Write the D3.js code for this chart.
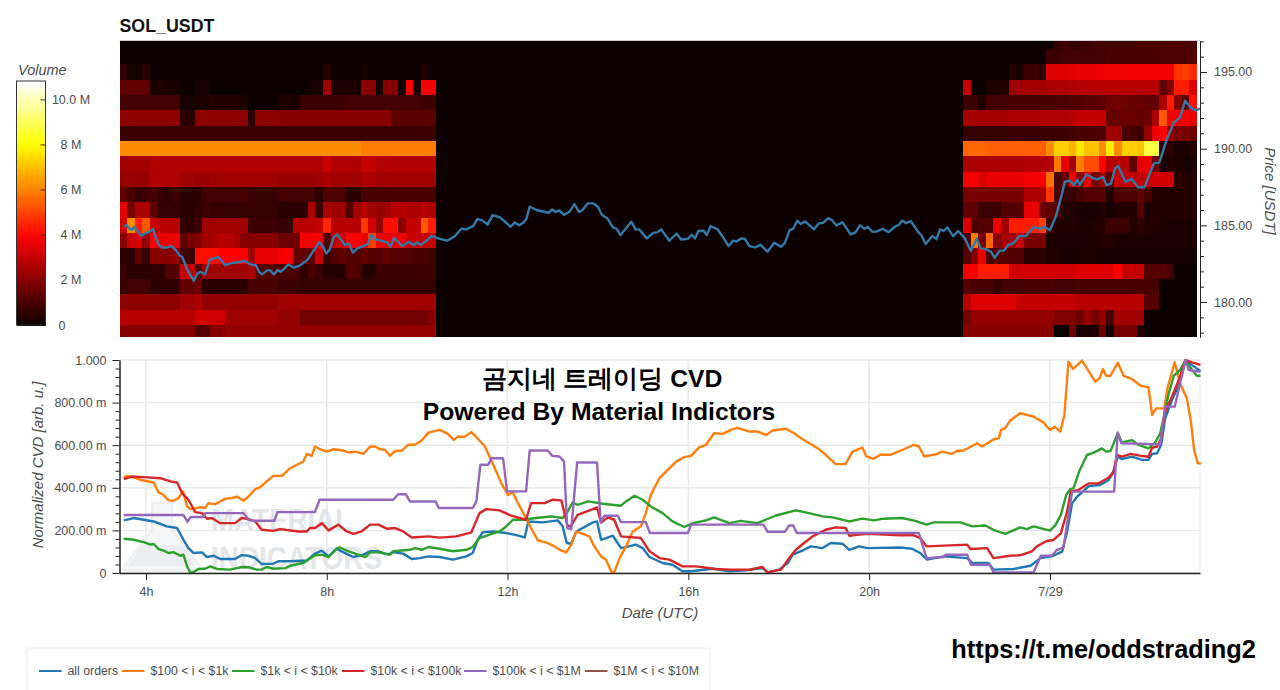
<!DOCTYPE html>
<html>
<head>
<meta charset="utf-8">
<script src="https://cdn.jsdelivr.net/npm/d3@7"></script>
<style>
html, body { margin: 0; padding: 0; background: #fff; overflow: hidden; }
svg { display: block; }
text { font-family: "Liberation Sans", Arial, sans-serif; }
</style>
</head>
<body>
<div id="chart"></div>
<script>
// volume per price level, in tenths of a million. first 42 cells = left block, last 31 = right block
const vol197 = [1,1,1,1,1,1,1,1,1,1, 1,1,1,1,1,1,1,1,1,1, 1,1,1,1,1,1,1,1,1,1, 1,1,1,1,1,1,1,1,1,1, 1,1,
  1,1,1,1,1,1,1,1,1,1, 1,1,6,8,7,7,8,9,9,9, 9,9,9,10,10,10,10,11,11,11, 10];
const vol196 = [1,1,1,1,1,1,1,1,1,1, 1,1,1,1,1,1,1,1,1,1, 1,1,1,1,1,1,1,1,1,1, 1,1,1,1,1,1,1,1,1,1, 1,1,
  1,1,1,1,1,1,1,1,1,1, 1,8,8,9,9,9,9,9,9,10, 10,10,10,10,10,10,11,11,11,11, 12];
const vol195 = [7,2,2,6,1,1,1,1,1,1, 1,1,1,1,1,1,1,1,1,1, 1,1,1,1,1,1,1,4,1,1, 1,1,2,1,1,1,1,1,1,1, 4,1,
  1,1,1,1,1,1,4,3,8,8, 5,34,34,34,35,36,36,36,37,37, 37,37,38,38,38,38,38,38,48,50, 46];
const vol194 = [14,14,14,14,3,3,3,2,1,1, 2,2,1,1,1,1,1,1,1,1, 1,1,1,1,1,2,2,24,3,3, 3,2,20,20,2,20,20,2,40,3, 38,38,
  30,1,1,3,3,4,24,24,25,25, 25,26,26,26,27,28,28,28,28,28, 28,28,28,28,28,28,14,20,44,44, 34];
const vol193 = [9,9,9,9,9,9,9,9,2,2, 3,3,4,4,4,4,3,1,1,1, 1,3,3,3,8,8,8,8,8,8, 9,9,9,9,9,9,9,9,9,9, 8,8,
  8,8,4,9,9,9,10,10,10,10, 10,10,11,11,12,12,13,13,14,16, 17,16,15,15,14,14,26,44,20,14, 42];
const vol192 = [21,21,21,21,21,21,21,21,5,5, 21,21,21,21,21,21,21,5,21,21, 21,20,20,20,20,20,20,20,20,20, 20,20,20,20,20,20,13,13,13,13, 13,13,
  25,25,25,25,25,25,26,26,26,26, 27,27,27,27,28,30,30,30,30,15, 15,15,15,14,16,26,54,38,38,38, 36];
const vol191 = [8,8,8,8,8,8,8,8,8,8, 8,8,8,8,8,8,8,8,8,8, 8,8,8,8,8,8,8,8,8,8, 8,8,8,8,8,8,8,8,8,8, 8,8,
  7,7,7,7,7,7,8,8,8,8, 8,8,8,8,9,10,10,11,11,24, 24,10,10,8,22,36,40,22,18,18, 16];
const vol190 = [62,62,62,62,62,62,62,62,62,62, 62,62,62,62,62,62,62,62,62,62, 62,62,62,62,62,62,62,62,62,62, 62,62,60,60,60,60,60,60,60,60, 60,60,
  56,56,56,55,55,55,55,55,55,55, 55,62,73,73,68,77,71,71,62,78, 62,73,73,71,88,88,6,5,3,3, 4];
const vol189 = [25,25,25,25,27,27,27,27,27,27, 27,27,27,27,27,27,27,27,27,27, 27,27,27,27,27,27,27,31,27,27, 27,27,30,30,27,28,27,27,27,27, 27,27,
  26,26,26,26,26,26,26,26,27,27, 27,27,59,36,24,60,52,52,40,28, 28,28,14,36,37,16,4,4,3,2, 3];
const vol188 = [23,23,23,23,27,27,27,27,24,24, 23,23,24,24,24,24,24,24,24,24, 24,23,23,23,23,23,24,26,24,24, 24,24,26,26,24,24,24,24,24,24, 24,24,
  38,38,34,36,36,36,36,36,38,38, 38,58,10,14,36,20,36,18,24,14, 30,30,30,30,30,32,32,32,5,4, 4];
const vol187 = [14,10,7,8,10,7,6,8,5,5, 5,9,9,9,9,9,9,7,7,7, 7,9,9,9,9,9,5,11,11,11, 5,5,10,10,10,10,10,10,10,10, 10,10,
  18,18,18,18,18,18,18,18,26,26, 26,48,10,7,7,10,12,12,12,4, 11,11,11,14,10,4,4,4,4,4, 4];
const vol186 = [35,18,26,26,14,7,7,7,5,5, 7,8,7,7,7,7,7,7,7,7, 7,5,5,5,5,26,8,26,24,24, 12,24,28,24,22,24,28,28,26,26, 28,26,
  14,14,8,8,8,12,12,12,36,36, 16,14,12,4,4,3,2,3,4,2, 4,4,4,12,3,4,4,4,4,4, 4];
const vol185 = [32,62,44,54,30,28,28,28,6,6, 8,24,24,24,24,24,24,8,8,8, 8,7,7,28,28,28,30,46,28,28, 28,28,48,32,22,42,42,20,30,30, 54,44,
  34,10,12,12,36,24,44,44,44,44, 50,8,4,4,4,3,3,4,4,8, 8,8,4,6,4,4,3,3,3,3, 3];
const vol184 = [20,30,34,22,38,36,36,36,14,18, 20,24,26,28,28,26,20,20,20,20, 20,16,16,16,38,38,38,12,30,30, 40,40,36,50,36,36,36,38,30,30, 30,30,
  10,60,18,56,20,26,24,30,18,18, 18,3,3,3,3,3,3,3,4,4, 3,3,3,3,3,3,3,3,3,3, 3];
const vol183 = [6,5,14,6,20,20,20,22,10,8, 42,42,42,40,40,40,40,24,36,36, 36,38,38,14,14,14,30,8,12,14, 12,12,14,12,12,14,12,12,12,10, 10,8,
  12,20,36,10,12,12,12,12,5,5, 5,4,4,2,2,3,3,3,2,2, 2,2,2,2,2,2,2,2,2,2, 2];
const vol182 = [8,5,5,5,6,6,12,12,30,30, 12,24,24,24,24,24,24,26,12,12, 12,10,10,10,6,10,8,4,4,4, 12,12,4,4,8,8,8,8,8,8, 8,8,
  38,38,44,44,44,44,32,32,32,32, 32,32,32,32,32,34,34,34,34,34, 40,30,30,30,12,12,12,10,1,1, 1];
const vol181 = [8,9,9,9,6,6,6,6,14,14, 16,5,5,5,5,5,5,10,10,10, 10,8,8,8,7,7,7,7,7,7, 7,7,7,7,7,7,7,7,7,7, 7,7,
  12,10,10,10,7,9,9,9,10,10, 10,10,9,9,9,10,10,10,10,10, 10,10,10,10,10,10,1,1,1,1, 1];
const vol180 = [21,21,21,21,21,21,21,21,24,24, 26,22,22,22,22,22,22,22,22,22, 22,24,24,24,24,24,24,24,24,24, 24,24,24,24,24,24,24,24,24,24, 24,24,
  28,34,34,34,34,34,34,30,30,30, 30,30,30,30,30,28,28,28,28,28, 28,28,28,28,12,12,1,1,1,1, 1];
const vol179 = [28,28,28,28,28,28,28,28,28,28, 32,32,32,32,24,24,24,24,24,24, 24,22,22,22,17,17,17,17,17,17, 17,17,17,17,17,17,17,17,17,17, 17,20,
  18,22,22,22,22,22,22,22,22,22, 22,22,19,19,19,16,22,18,22,10, 24,24,24,24,1,1,1,1,1,1, 1];
const vol178 = [20,20,20,20,20,20,20,20,20,20, 12,12,20,20,22,22,22,22,22,22, 22,22,22,22,22,22,22,22,22,22, 22,22,22,22,22,22,22,22,22,22, 22,22,
  20,20,20,20,20,20,20,20,20,20, 20,20,1,1,16,2,2,3,16,2, 18,18,18,4,1,1,1,1,1,1, 1];

const priceLevels = [197,196,195,194,193,192,191,190,189,188,187,186,185,184,183,182,181,180,179,178];
const volRows = [vol197,vol196,vol195,vol194,vol193,vol192,vol191,vol190,vol189,vol188,vol187,vol186,vol185,vol184,vol183,vol182,vol181,vol180,vol179,vol178];
const LEFT_COLS = 42;
const LEFT_START = 3.5;    // hour of first cell centre
const RIGHT_START = 22.1667;

// [hour since 7/28 00:00 UTC, price]
const priceLine = [[3.51,184.95],[3.57,185.02],[3.62,184.84],[3.68,184.69],[3.74,184.91],[3.81,184.63],[3.90,184.32],[3.98,184.47],[4.05,184.54],[4.10,184.63],[4.16,184.76],[4.21,184.26],[4.29,183.71],[4.36,183.56],[4.47,183.56],[4.57,183.65],[4.66,183.39],[4.75,183.02],[4.80,182.95],[4.92,182.08],[5.06,181.37],[5.14,181.87],[5.21,181.97],[5.31,181.8],[5.41,182.74],[5.50,182.84],[5.60,182.95],[5.75,182.41],[5.87,182.52],[5.98,182.58],[6.10,182.63],[6.19,182.67],[6.32,182.45],[6.43,182.41],[6.50,181.97],[6.57,181.8],[6.69,182.08],[6.74,182.08],[6.83,181.8],[6.91,182.08],[6.98,181.97],[7.05,182.15],[7.15,182.45],[7.28,182.24],[7.42,182.41],[7.57,182.74],[7.72,183.39],[7.83,183.89],[7.90,183.71],[7.99,183.17],[8.06,183.39],[8.16,184.26],[8.23,184.41],[8.31,184.1],[8.40,183.71],[8.49,183.82],[8.58,183.23],[8.68,183.5],[8.90,183.76],[8.99,184.37],[9.07,184.1],[9.23,183.97],[9.34,183.89],[9.41,183.6],[9.49,184.19],[9.58,183.93],[9.67,183.65],[9.82,183.93],[9.93,183.71],[10.0,183.89],[10.08,183.71],[10.22,184.04],[10.32,184.32],[10.47,184.15],
  [10.66,184.0],[10.82,184.26],[10.98,184.78],[11.08,184.74],[11.24,184.95],[11.33,185.41],[11.43,185.34],[11.56,185.06],[11.67,185.67],[11.83,185.52],[12.07,184.91],[12.16,185.19],[12.26,185.0],[12.35,185.17],[12.42,185.45],[12.49,186.21],[12.64,186.0],[12.91,185.82],[12.99,186.04],[13.06,185.87],[13.14,185.98],[13.25,185.69],[13.37,185.89],[13.48,186.39],[13.58,185.87],[13.66,186.0],[13.77,186.43],[13.90,186.43],[14.0,186.21],[14.09,185.67],[14.21,185.45],[14.33,184.87],[14.41,184.78],[14.50,184.37],[14.74,185.24],[14.83,184.74],[14.91,184.74],[15.08,184.15],[15.23,184.52],[15.31,184.54],[15.40,184.74],[15.58,184.0],[15.74,184.47],[15.84,184.08],[15.99,184.13],[16.07,184.39],[16.15,184.15],[16.22,184.63],[16.34,184.65],[16.41,184.37],[16.49,184.95],[16.64,184.76],[16.76,184.26],[16.89,183.65],[16.99,184.0],[17.06,183.95],[17.18,184.15],[17.25,184.13],[17.35,183.65],[17.48,183.56],[17.6,183.73],[17.75,183.28],[17.9,183.87],[18.05,183.61],[18.13,183.82],[18.24,184.69],[18.32,184.78],[18.41,185.3],[18.49,185.08],[18.58,185.26],[18.78,184.74],[18.89,185.13],[18.98,185.17],[19.1,185.47],[19.18,185.34],[19.27,185.0],[19.41,185.19],[19.59,184.41],[19.69,184.52],[19.8,185.0],[19.9,184.78],[19.97,184.91],[20.07,184.58],[20.18,184.61],[20.3,184.78],[20.43,184.56],[20.57,184.91],[20.66,185.04],[20.73,185.32],[20.81,185.15],[20.92,185.28],[21.1,184.52],[21.16,184.34],[21.25,183.78],[21.4,184.3],[21.49,184.1],[21.57,184.74],[21.65,184.63],[21.73,184.87],
  [21.79,184.59],[21.86,184.3],[21.97,184.63],[22.12,184.15],[22.25,183.33],[22.38,184.15],[22.47,183.5],[22.6,183.44],[22.69,183.28],[22.78,182.89],[22.89,183.35],[22.98,183.35],[23.08,183.72],[23.19,183.83],[23.32,184.3],[23.47,184.3],[23.63,184.87],[23.78,184.8],[23.89,184.87],[24.0,184.7],[24.13,185.57],[24.26,186.98],[24.33,187.85],[24.44,187.91],[24.53,187.63],[24.61,187.96],[24.66,187.63],[24.81,188.33],[24.96,188.07],[25.05,188.0],[25.17,188.17],[25.25,187.63],[25.35,187.7],[25.44,188.72],[25.51,188.87],[25.67,187.85],[25.81,188.02],[25.95,187.48],[26.09,187.48],[26.21,188.39],[26.3,189.04],[26.42,189.09],[26.58,190.57],[26.74,191.7],[26.88,192.04],[26.99,193.13],[27.11,192.7],[27.23,192.48],[27.32,192.63]];

// [hour, normalized cvd]
const cvdAll = [[3.51,.247],[3.73,.258],[3.95,.25],[4.17,.242],[4.46,.219],[4.69,.211],[4.83,.156],[4.94,.117],[5.05,.094],[5.24,.097],[5.35,.075],[5.5,.081],[5.64,.066],[5.97,.066],[6.12,.084],[6.27,.081],[6.42,.07],[6.56,.042],[6.82,.044],[6.93,.055],[7.19,.055],[7.56,.059],[7.74,.091],[7.89,.105],[8.04,.078],[8.22,.114],[8.37,.097],[8.59,.075],[8.81,.086],[8.96,.102],[9.14,.102],[9.36,.086],[9.47,.098],[9.69,.091],[9.88,.066],[10.06,.07],[10.25,.078],
  [10.5,.075],[10.79,.0625],[11.09,.078],[11.23,.094],[11.34,.156],[11.45,.191],[11.68,.195],[11.97,.1875],[12.15,.18],[12.38,.167],[12.46,.242],[12.78,.2375],[13.11,.247],[13.22,.219],[13.31,.141],[13.41,.1375],[13.52,.195],[13.89,.2375],[13.98,.242],[14.07,.156],[14.33,.175],[14.51,.117],[14.84,.133],[14.99,.117],[15.14,.075],[15.43,.047],[15.65,.039],[15.87,.008],[16.06,.008],[16.54,.02],[16.91,.008],[17.27,.0125],[17.64,.023],[17.75,.003],[18.01,.016],[18.2,.047],[18.31,.086],[18.56,.109],[18.71,.125],[18.97,.117],[19.15,.141],[19.41,.1375],[19.56,.109],[19.78,.125],
  [19.96,.117],[20.69,.12],[20.95,.114],[21.13,.094],[21.28,.0625],[21.65,.078],[22.17,.07],[22.28,.047],[22.64,.047],[22.75,.016],[23.2,.019],[23.57,.034],[23.79,.07],[24.04,.078],[24.27,.1],[24.38,.194],[24.49,.327],[24.6,.358],[24.86,.408],[25.11,.413],[25.3,.437],[25.39,.468],[25.5,.546],[25.59,.535],[25.81,.546],[26.04,.531],[26.18,.531],[26.26,.559],[26.37,.562],[26.46,.601],[26.55,.726],[26.7,.812],[26.85,.883],[27.0,1.0],[27.14,.976],[27.33,.948]];

const cvd100 = [[3.51,.445],[3.57,.456],[3.69,.45],[3.87,.438],[4.17,.425],[4.28,.378],[4.39,.367],[4.5,.341],[4.61,.339],[4.72,.352],[4.82,.383],[4.91,.313],[4.98,.3],[5.13,.305],[5.2,.309],[5.31,.305],[5.38,.328],[5.53,.323],[5.75,.348],[5.9,.352],[6.01,.359],[6.16,.339],[6.27,.359],[6.42,.394],[6.53,.403],[6.67,.43],[6.82,.456],[7.01,.456],[7.19,.492],[7.34,.508],[7.48,.523],[7.56,.559],[7.67,.55],[7.74,.594],[7.85,.581],[8.0,.57],[8.15,.581],[8.37,.575],[8.48,.566],[8.63,.57],[8.81,.559],[8.96,.594],[9.07,.594],[9.18,.581],[9.29,.578],[9.4,.55],[9.51,.573],[9.66,.575],[9.8,.602],[9.95,.602],[10.1,.622],[10.25,.659],
  [10.5,.672],[10.68,.653],[10.81,.625],[10.9,.64],[11.05,.64],[11.2,.661],[11.31,.6375],[11.49,.597],[11.6,.547],[11.75,.477],[11.86,.422],[12.01,.367],[12.12,.378],[12.23,.328],[12.38,.269],[12.52,.211],[12.67,.153],[12.85,.144],[13.04,.125],[13.15,.109],[13.3,.097],[13.41,.133],[13.52,.195],[13.66,.184],[13.81,.172],[13.92,.125],[14.07,.078],[14.18,.0625],[14.29,.008],[14.36,.003],[14.48,.07],[14.62,.125],[14.77,.195],[14.95,.219],[15.06,.281],[15.17,.367],[15.36,.445],[15.51,.477],[15.73,.523],[15.91,.544],[16.06,.55],[16.24,.59],[16.39,.602],[16.57,.656],[16.76,.653],[16.94,.672],[17.09,.681],[17.35,.664],[17.53,.664],[17.72,.648],[17.86,.669],[18.16,.677],[18.34,.656],[18.53,.628],[18.86,.586],[19.04,.555],[19.26,.511],[19.48,.511],[19.63,.57],
  [19.85,.589],[19.94,.547],[20.09,.536],[20.25,.555],[20.47,.555],[20.77,.581],[20.99,.602],[21.1,.594],[21.22,.547],[21.5,.558],[21.61,.57],[21.83,.559],[21.94,.573],[22.09,.575],[22.39,.609],[22.5,.594],[22.76,.628],[22.87,.633],[22.92,.672],[23.01,.68],[23.12,.716],[23.34,.75],[23.64,.734],[23.86,.706],[24.0,.671],[24.1,.687],[24.23,.664],[24.32,.742],[24.41,.992],[24.51,.958],[24.71,.997],[24.82,.961],[25.0,.898],[25.1,.914],[25.17,.958],[25.24,.926],[25.34,.926],[25.5,.987],[25.63,.926],[25.81,.911],[26.0,.88],[26.18,.872],[26.26,.742],[26.35,.773],[26.53,.773],[26.6,.867],[26.76,.989],[26.88,.89],[27.03,.82],[27.12,.71],[27.19,.577],[27.27,.515],[27.34,.515]];

const cvd1k = [[3.51,.161],[3.73,.156],[3.95,.145],[4.1,.133],[4.17,.136],[4.28,.112],[4.39,.105],[4.5,.094],[4.61,.098],[4.76,.081],[4.83,.086],[4.91,.031],[4.98,.003],[5.05,.003],[5.16,.019],[5.31,.02],[5.42,.031],[5.57,.019],[5.86,.016],[6.01,.023],[6.12,.028],[6.27,.027],[6.45,.016],[6.56,.016],[6.67,.028],[6.82,.02],[7.08,.023],[7.19,.034],[7.48,.047],[7.74,.083],[7.89,.086],[8.04,.075],[8.22,.114],[8.29,.12],[8.44,.105],[8.63,.091],[8.85,.075],[8.96,.097],[9.14,.097],[9.4,.086],[9.47,.102],[9.84,.109],[9.95,.117],[10.1,.109],[10.25,.122],
  [10.5,.114],[10.79,.102],[11.09,.109],[11.23,.122],[11.38,.164],[11.6,.18],[11.82,.195],[11.93,.211],[12.12,.25],[12.34,.25],[12.63,.258],[12.97,.266],[13.22,.258],[13.33,.289],[13.44,.331],[13.55,.32],[13.78,.336],[14.11,.325],[14.51,.316],[14.62,.336],[14.81,.3625],[14.99,.344],[15.17,.3125],[15.43,.281],[15.65,.242],[15.91,.216],[16.1,.234],[16.39,.247],[16.57,.261],[16.91,.234],[17.16,.245],[17.53,.234],[17.94,.27],[18.38,.294],[18.67,.281],[18.97,.266],[19.19,.261],[19.56,.242],[19.85,.255],
  [20.1,.247],[20.32,.255],[20.73,.258],[21.02,.245],[21.27,.227],[21.43,.2375],[22.02,.2375],[22.28,.219],[22.57,.223],[22.75,.203],[23.01,.184],[23.34,.214],[23.49,.206],[23.64,.219],[24.0,.199],[24.12,.225],[24.24,.272],[24.36,.366],[24.45,.394],[24.52,.397],[24.66,.484],[24.82,.554],[24.97,.565],[25.15,.585],[25.24,.57],[25.34,.573],[25.5,.656],[25.59,.613],[25.81,.624],[25.96,.601],[26.18,.585],[26.33,.613],[26.44,.656],[26.53,.742],[26.62,.836],[26.74,.926],[26.88,.953],[27.0,1.0],[27.12,.961],[27.25,.926],[27.33,.926]];

const cvd10k = [[3.51,.441],[3.69,.453],[3.95,.45],[4.32,.445],[4.54,.43],[4.69,.425],[4.8,.375],[4.94,.344],[5.09,.286],[5.24,.281],[5.35,.255],[5.46,.258],[5.64,.234],[5.97,.234],[6.12,.258],[6.27,.253],[6.42,.242],[6.56,.203],[6.82,.198],[6.97,.206],[7.37,.195],[7.56,.195],[7.63,.211],[7.74,.211],[7.89,.234],[8.04,.2],[8.26,.227],[8.44,.195],[8.59,.184],[8.77,.195],[8.96,.227],[9.14,.227],[9.33,.208],[9.51,.211],[9.69,.195],[9.88,.167],[10.25,.172],
  [10.5,.166],[10.87,.172],[11.2,.191],[11.38,.281],[11.53,.3],[11.82,.294],[12.08,.269],[12.41,.25],[12.52,.328],[12.82,.328],[13.0,.344],[13.19,.341],[13.33,.219],[13.41,.222],[13.55,.273],[13.89,.3],[13.98,.308],[14.07,.2375],[14.22,.261],[14.36,.25],[14.51,.172],[14.95,.164],[15.14,.102],[15.36,.07],[15.58,.0625],[15.87,.031],[16.17,.031],[16.61,.019],[16.91,.016],[17.35,.016],[17.64,.028],[17.75,.003],[18.05,.016],[18.23,.07],[18.38,.109],[18.56,.141],[18.75,.172],[19.04,.203],[19.26,.214],[19.48,.211],[19.56,.175],[19.78,.18],
  [19.96,.184],[20.69,.177],[20.99,.177],[21.13,.164],[21.27,.125],[22.17,.133],[22.24,.1125],[22.61,.117],[22.75,.07],[23.12,.081],[23.34,.083],[23.6,.102],[23.71,.125],[23.93,.15],[24.08,.155],[24.24,.186],[24.38,.288],[24.46,.382],[24.63,.39],[24.86,.421],[25.08,.421],[25.3,.448],[25.41,.476],[25.48,.554],[25.59,.546],[25.79,.559],[26.04,.549],[26.18,.546],[26.26,.588],[26.37,.593],[26.46,.632],[26.55,.757],[26.7,.828],[26.85,.906],[27.0,1.0],[27.14,.989],[27.33,.977]];

const cvd100k = [[3.51,.272],[4.83,.272],[4.92,.241],[4.99,.263],[5.27,.263],[5.31,.281],[6.16,.281],[6.27,.25],[6.38,.245],[6.84,.245],[6.91,.286],[7.74,.286],[7.84,.344],[9.47,.344],[9.58,.37],[9.75,.37],[9.84,.336],[10.41,.336],[10.48,.305],[11.23,.305],[11.31,.336],[11.4,.508],[11.57,.508],[11.65,.539],[11.9,.539],[11.99,.383],[12.41,.383],[12.49,.575],[12.89,.575],[12.99,.55],[13.15,.547],[13.25,.523],[13.32,.211],[13.41,.206],[13.54,.519],[13.98,.519],[14.06,.2375],[14.14,.269],[14.44,.269],[14.51,.239],[15.06,.239],[15.15,.1875],[15.99,.1875],[16.06,.227],[17.66,.227],[17.75,.194],[18.14,.194],[18.23,.223],[18.32,.223],[18.40,.1875],[21.1,.1875],[21.27,.07],[21.65,.075],[21.69,.086],[22.17,.086],[22.25,.039],[22.67,.039],[22.75,.003],[23.64,.003],[23.71,.039],[23.8,.081],[24.04,.081],[24.15,.108],[24.3,.119],[24.49,.382],[25.42,.382],[25.5,.66],[25.58,.609],[26.44,.604],[26.55,.781],[26.76,.781],[27.0,1.0],[27.07,.953],[27.33,.945]];

const cvd1m = []; // legend only, nothing visible in the plot

const legendLabels = ["all orders", "$100 < i < $1k", "$1k < i < $10k", "$10k < i < $100k", "$100k < i < $1M", "$1M < i < $10M"];
const legendColors = ["#1f77b4", "#ff7f0e", "#2ca02c", "#d62728", "#9467bd", "#8c564b"];
const legendLineX = [39, 122, 232, 342, 464, 585];
const seriesList = [cvdAll, cvd100, cvd1k, cvd10k, cvd100k, cvd1m];

const hourTicks = [4, 8, 12, 16, 20, 24];
const priceTicks = [180, 185, 190, 195];
const priceMinor = [178,179,181,182,183,184,186,187,188,189,191,192,193,194,196,197];
const cvdTicks = [0, .2, .4, .6, .8, 1];
const cvdMinor = [.04,.08,.12,.16,.24,.28,.32,.36,.44,.48,.52,.56,.64,.68,.72,.76,.84,.88,.92,.96];
const volTicks = [0, 2, 4, 6, 8, 10];

const TEXT_COLOR = "#4d4d4d";
const GRID_COLOR = "#e9e9e9";
const AXIS_COLOR = "#222222";
const VOL_MAX = 10.84;

const svg = d3.select("#chart").append("svg").attr("width", 1280).attr("height", 690);

const plot = { left: 119.5, right: 1200, top1: 41, bottom1: 337, top2: 360, bottom2: 573 };
const x = d3.scaleLinear().domain([3.415, 27.32]).range([plot.left, plot.right]);
const yPrice = d3.scaleLinear().domain([177.72, 197.02]).range([plot.bottom1, plot.top1]);
const yCvd = d3.scaleLinear().domain([0, 1]).range([plot.bottom2, plot.top2]);

// matplotlib style "hot" ramp
const heat = d3.scaleLinear()
  .domain([0, .365, .746, 1].map(d => d * VOL_MAX))
  .range(["#0a0000", "#ff0000", "#ffff00", "#ffffff"])
  .clamp(true);

const defs = svg.append("defs");
defs.append("clipPath").attr("id", "clipTop").append("rect")
  .attr("x", plot.left).attr("y", plot.top1)
  .attr("width", plot.right - plot.left).attr("height", plot.bottom1 - plot.top1);
defs.append("clipPath").attr("id", "clipBottom").append("rect")
  .attr("x", plot.left).attr("y", plot.top2 - 1)
  .attr("width", plot.right - plot.left + 1).attr("height", plot.bottom2 - plot.top2 + 2);
// the source picture is a soft screenshot, cells do not have hard edges
defs.append("filter").attr("id", "soft")
  .attr("x", "-1%").attr("y", "-1%").attr("width", "102%").attr("height", "102%")
  .append("feGaussianBlur").attr("stdDeviation", .6);

// --- heatmap
let cells = [];
volRows.forEach((row, r) => {
  row.forEach((v, c) => {
    let hour = c < LEFT_COLS ? LEFT_START + c / 6 : RIGHT_START + (c - LEFT_COLS) / 6;
    cells.push({ hour: hour, price: priceLevels[r], vol: v / 10 });
  });
});
const heatClip = svg.append("g").attr("clip-path", "url(#clipTop)");
const heatLayer = heatClip.append("g").attr("filter", "url(#soft)").attr("shape-rendering", "crispEdges");
heatLayer.append("rect")
  .attr("x", plot.left).attr("y", plot.top1 - 3)
  .attr("width", x(27.25) - plot.left).attr("height", plot.bottom1 - plot.top1 + 6)
  .attr("fill", heat(0));
heatLayer.selectAll("rect.cell").data(cells).enter().append("rect")
  .attr("class", "cell")
  .attr("x", d => x(d.hour - 1 / 12))
  .attr("y", d => yPrice(d.price + .5))
  .attr("width", d => x(d.hour + 1 / 12) - x(d.hour - 1 / 12) + .4)
  .attr("height", d => yPrice(d.price - .5) - yPrice(d.price + .5) + .4)
  .attr("fill", d => heat(d.vol));

svg.append("line")
  .attr("x1", plot.left).attr("x2", plot.right).attr("y1", plot.top1 - .5).attr("y2", plot.top1 - .5)
  .attr("stroke", "#cfcfcf");

const line = d3.line().x(d => x(d[0]));

svg.append("path").datum(priceLine)
  .attr("fill", "none").attr("stroke", "#3579a8").attr("stroke-width", 2.4).attr("stroke-linejoin", "round")
  .attr("d", line.y(d => yPrice(d[1])));

// price axis on the right
const styleAxis = g => {
  g.selectAll("path").attr("stroke", AXIS_COLOR);
  g.selectAll("line").attr("stroke", AXIS_COLOR);
  g.selectAll("text").attr("fill", TEXT_COLOR).attr("font-size", "12.5px")
    .attr("font-family", '"Liberation Sans", Arial, sans-serif');
};
svg.append("g").attr("transform", `translate(${plot.right},0)`)
  .call(d3.axisRight(yPrice).tickValues(priceMinor).tickSize(4).tickFormat("").tickSizeOuter(0))
  .call(styleAxis);
svg.append("g").attr("transform", `translate(${plot.right},0)`)
  .call(d3.axisRight(yPrice).tickValues(priceTicks).tickSize(7).tickPadding(7).tickFormat(d3.format(".2f")).tickSizeOuter(0))
  .call(styleAxis);

svg.append("text").text("Price [USDT]")
  .attr("transform", "translate(1265,191) rotate(90)")
  .attr("text-anchor", "middle").attr("font-size", "15px").attr("font-style", "italic").attr("fill", TEXT_COLOR);

svg.append("text").text("SOL_USDT")
  .attr("x", 119.5).attr("y", 31.5)
  .attr("font-size", "17.8px").attr("font-weight", "bold").attr("fill", "#111");

// --- colour bar
const barTop = 81, barBottom = 325, barLeft = 16.5, barRight = 45.5;
const yVol = d3.scaleLinear().domain([0, VOL_MAX]).range([barBottom, barTop]);
const barSteps = d3.range(0, 256);
svg.append("g").attr("shape-rendering", "crispEdges")
  .selectAll("rect").data(barSteps).enter().append("rect")
  .attr("x", barLeft).attr("width", barRight - barLeft)
  .attr("y", d => yVol((d + 1) / 256 * VOL_MAX))
  .attr("height", 2)
  .attr("fill", d => heat(d / 255 * VOL_MAX));
svg.append("rect")
  .attr("x", barLeft).attr("y", barTop).attr("width", barRight - barLeft).attr("height", barBottom - barTop)
  .attr("fill", "none").attr("stroke", "#333");
svg.append("text").text("Volume").attr("x", 18).attr("y", 75)
  .attr("font-size", "14.5px").attr("font-style", "italic").attr("fill", TEXT_COLOR);
svg.append("g").selectAll("line").data(volTicks.slice(1)).enter().append("line")
  .attr("x1", barRight - 5).attr("x2", barRight)
  .attr("y1", d => yVol(d)).attr("y2", d => yVol(d))
  .attr("stroke", "#333");
svg.append("g").selectAll("text").data(volTicks).enter().append("text")
  .text(d => d === 0 ? "0" : d === 10 ? "10.0 M" : d + " M")
  .attr("x", d => d === 0 ? 62 : 71)
  .attr("y", d => yVol(d) + 4.5)
  .attr("text-anchor", "middle").attr("font-size", "12.5px").attr("fill", TEXT_COLOR);

// --- cvd panel
svg.append("g").selectAll("line").data(hourTicks).enter().append("line")
  .attr("x1", d => x(d)).attr("x2", d => x(d)).attr("y1", plot.top2).attr("y2", plot.bottom2)
  .attr("stroke", GRID_COLOR).attr("stroke-width", 1.5);
svg.append("g").selectAll("line").data(cvdTicks).enter().append("line")
  .attr("x1", plot.left).attr("x2", plot.right).attr("y1", d => yCvd(d)).attr("y2", d => yCvd(d))
  .attr("stroke", GRID_COLOR).attr("stroke-width", 1.5);
svg.append("line").attr("x1", plot.right).attr("x2", plot.right).attr("y1", plot.top2).attr("y2", plot.bottom2)
  .attr("stroke", GRID_COLOR);

// faded logo and watermark behind the lines
svg.append("path")
  .attr("d", "M152,503 H172 V530 L200,566 Q202,571 196,571 H128 Q122,571 124,566 L152,530 Z")
  .attr("fill", "#f5f6f7").attr("stroke", "#eceef0").attr("stroke-width", 2);
svg.append("path")
  .attr("d", "M141,545 H183 L196,566 H128 Z").attr("fill", "#eceff1");
svg.append("text").text("MATERIAL").attr("x", 211).attr("y", 531)
  .attr("textLength", 141).attr("lengthAdjust", "spacingAndGlyphs")
  .attr("font-size", "31px").attr("font-weight", "bold").attr("fill", "#e3e6e8");
svg.append("text").text("INDICATORS").attr("x", 211).attr("y", 569)
  .attr("textLength", 171).attr("lengthAdjust", "spacingAndGlyphs")
  .attr("font-size", "31px").attr("font-weight", "bold").attr("fill", "#e3e6e8");

svg.append("g").attr("clip-path", "url(#clipBottom)")
  .selectAll("path").data(seriesList).enter().append("path")
  .attr("fill", "none")
  .attr("stroke", (d, i) => legendColors[i])
  .attr("stroke-width", 2.4)
  .attr("stroke-linejoin", "round")
  .attr("d", line.y(d => yCvd(d[1])));

// axes of the cvd panel
svg.append("g").attr("transform", `translate(${plot.left},0)`)
  .call(d3.axisLeft(yCvd).tickValues(cvdMinor).tickSize(4).tickFormat("").tickSizeOuter(0))
  .call(styleAxis);
svg.append("g").attr("transform", `translate(${plot.left},0)`)
  .call(d3.axisLeft(yCvd).tickValues(cvdTicks).tickSize(7).tickPadding(6).tickSizeOuter(0)
    .tickFormat(d => d === 0 ? "0" : d === 1 ? "1.000" : Math.round(d * 1000) + ".00 m"))
  .call(styleAxis);
svg.append("g").attr("transform", `translate(0,${plot.bottom2})`)
  .call(d3.axisBottom(x).tickValues(hourTicks).tickSize(7).tickPadding(7).tickSizeOuter(0)
    .tickFormat(d => d === 24 ? "7/29" : d + "h"))
  .call(styleAxis)
  .call(g => g.select("path").attr("stroke-width", 1.5));

svg.append("text").text("Normalized CVD [arb. u.]")
  .attr("transform", "translate(43,465) rotate(-90)")
  .attr("text-anchor", "middle").attr("font-size", "15px").attr("font-style", "italic").attr("fill", TEXT_COLOR);
svg.append("text").text("Date (UTC)")
  .attr("x", 660).attr("y", 618)
  .attr("text-anchor", "middle").attr("font-size", "15px").attr("font-style", "italic").attr("fill", TEXT_COLOR);

// --- captions pasted on top of the image
svg.append("text").text("곰지네 트레이딩 CVD")
  .attr("x", 602).attr("y", 387)
  .attr("text-anchor", "middle").attr("font-size", "24.7px").attr("font-weight", "bold")
  .attr("font-family", '"Noto Sans CJK KR", sans-serif').attr("fill", "#000");
svg.append("text").text("Powered By Material Indictors")
  .attr("x", 599).attr("y", 420)
  .attr("text-anchor", "middle").attr("font-size", "24.7px").attr("font-weight", "bold")
  .attr("font-family", '"Noto Sans CJK KR", sans-serif').attr("fill", "#000");
svg.append("text").text("https://t.me/oddstrading2")
  .attr("x", 1256).attr("y", 658)
  .attr("text-anchor", "end").attr("font-size", "25.4px").attr("font-weight", "bold")
  .attr("font-family", '"Noto Sans CJK KR", sans-serif').attr("fill", "#000");

// --- legend
svg.append("rect")
  .attr("x", 27).attr("y", 648).attr("width", 683).attr("height", 50)
  .attr("fill", "#fff").attr("stroke", "#eeeeee");
const legend = svg.append("g").selectAll("g").data(legendLabels).enter().append("g");
legend.append("line")
  .attr("x1", (d, i) => legendLineX[i]).attr("x2", (d, i) => legendLineX[i] + 22.5)
  .attr("y1", 671).attr("y2", 671)
  .attr("stroke", (d, i) => legendColors[i]).attr("stroke-width", 2);
legend.append("text").text(d => d)
  .attr("x", (d, i) => legendLineX[i] + 28.5).attr("y", 675)
  .attr("font-size", "12.3px").attr("fill", TEXT_COLOR);
</script>
</body>
</html>
